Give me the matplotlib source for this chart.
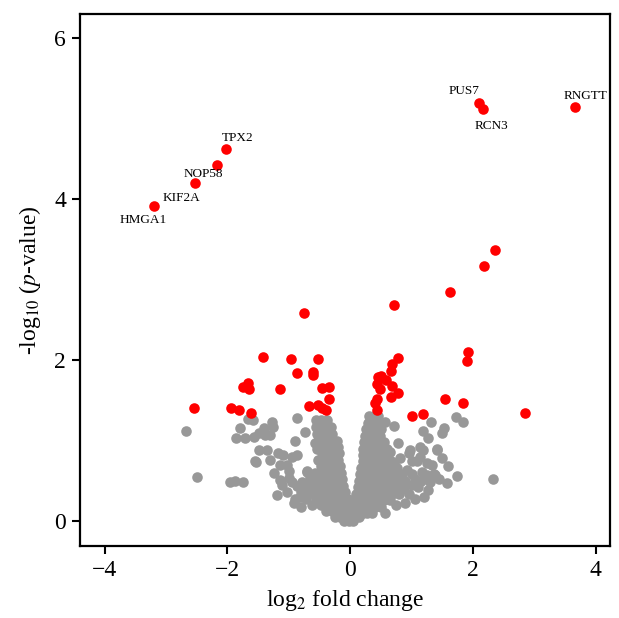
import matplotlib
matplotlib.use("Agg")
import matplotlib.pyplot as plt

plt.rcParams["font.family"] = ["Liberation Serif", "DejaVu Serif"]
plt.rcParams["mathtext.fontset"] = "stix"

# Significant genes (red)
sig_x = [-3.19, -2.52, -2.17, -2.02, 2.10, 2.17, 3.66,
         2.35, 2.18, 1.63, 0.72, -0.75, 1.92, 1.90, 0.78, -1.42, -0.96, -0.52,
         -0.87, -0.61, -0.60, -1.67, -1.74, -1.65, -1.14, -0.46, -0.35, -0.34,
         -2.54, -1.94, -1.81, -1.61, -0.67, -0.52, -0.46, -0.40,
         0.68, 0.66, 0.46, 0.50, 0.59, 0.43, 0.49, 0.68, 0.44, 0.41, 0.43,
         0.66, 0.78, 1.54, 1.84, 1.00, 1.18, 2.85]
sig_y = [3.91, 4.20, 4.42, 4.62, 5.20, 5.12, 5.14,
         3.37, 3.17, 2.84, 2.68, 2.59, 2.10, 1.99, 2.03, 2.04, 2.01, 2.01,
         1.84, 1.85, 1.81, 1.72, 1.66, 1.64, 1.64, 1.65, 1.66, 1.52,
         1.41, 1.40, 1.38, 1.34, 1.43, 1.44, 1.40, 1.38,
         1.95, 1.87, 1.79, 1.80, 1.75, 1.70, 1.64, 1.68, 1.52, 1.47, 1.38,
         1.54, 1.59, 1.52, 1.47, 1.31, 1.33, 1.34]

# Gene labels and where their text sits
label_names = ["HMGA1", "KIF2A", "NOP58", "TPX2", "PUS7", "RCN3", "RNGTT"]
label_x = [-3.37, -2.74, -2.39, -1.84, 1.86, 2.30, 3.83]
label_y = [3.74, 4.02, 4.31, 4.76, 5.34, 4.91, 5.28]

# Non-significant genes (grey): scattered outliers
ns_x = [-2.68, -2.50, -1.95, -1.87, -1.75, -1.79, -1.86, -1.71, -1.67, -1.58,
        -1.54, -1.57, -1.49, -1.38, -1.28, -1.25, -1.30, -1.40, -0.87, -0.73,
        -0.90, -1.49, -1.36, -1.30, -1.17, -1.09, -1.55, -1.14, -1.03, -0.95,
        -0.87, -1.14, -1.11, -1.00, -0.95, -1.19, -1.03, -0.87, -0.79, -0.71,
        -0.65, -0.81, -0.68, -0.60, -0.54, -0.49, -0.52, -0.38, -0.57, -0.54,
        -0.49, -0.44, -1.24, -0.99, -0.92, -0.80, -0.70,
        0.71, 1.18, 1.26, 1.52, 1.49, 1.73, 1.84, 1.32, 0.78, 1.42, 2.33,
        1.74, 1.57, 1.27, 1.37, 0.57, 0.57, 0.65, 0.71, 0.81, 0.95, 0.98,
        1.14, 1.19, 1.41, 1.00, 1.09, 1.14, 1.25, 1.33, 0.92, 1.00, 1.17,
        1.25, 1.38, 1.00, 1.10, 0.85, 0.95, 1.15, 1.30, 1.45, 1.05, 0.75,
        1.20, 0.90, 1.60, 1.50, 1.05, 0.85]
ns_y = [1.12, 0.55, 0.49, 0.50, 0.48, 1.16, 1.03, 1.03, 1.27, 1.25,
        0.73, 1.05, 1.09, 1.07, 1.23, 1.17, 1.07, 1.16, 1.28, 1.11,
        0.99, 0.88, 0.88, 0.76, 0.84, 0.82, 0.74, 0.70, 0.70, 0.80,
        0.82, 0.51, 0.45, 0.53, 0.49, 0.32, 0.36, 0.43, 0.49, 0.61,
        0.55, 0.30, 0.34, 0.43, 0.51, 0.45, 0.32, 0.39, 0.97, 0.90,
        1.22, 1.13, 0.60, 0.62, 0.22, 0.18, 0.62,
        1.18, 1.12, 1.03, 1.15, 1.09, 1.29, 1.23, 1.23, 0.97, 0.89, 0.52,
        0.56, 0.47, 0.39, 0.58, 0.10, 1.23, 0.86, 0.72, 0.78, 0.84, 0.88,
        0.92, 0.88, 0.88, 0.74, 0.74, 0.80, 0.72, 0.70, 0.63, 0.59, 0.61,
        0.57, 0.57, 0.45, 0.42, 0.40, 0.33, 0.50, 0.48, 0.52, 0.28, 0.20,
        0.30, 0.22, 0.68, 0.78, 0.52, 0.55]

# Non-significant genes (grey): dense core of the volcano, row by row
left_rows = {
    1.25: [-0.55, -0.47, -0.38],
    1.17: [-0.56, -0.48, -0.40, -0.32],
    1.08: [-0.54, -0.46, -0.38, -0.30],
    1.00: [-0.52, -0.44, -0.36, -0.28, -0.22],
    0.92: [-0.50, -0.42, -0.34, -0.26, -0.20],
    0.84: [-0.46, -0.38, -0.30, -0.23, -0.19],
    0.76: [-0.52, -0.44, -0.36, -0.28, -0.20],
    0.68: [-0.48, -0.40, -0.32, -0.24, -0.17],
    0.60: [-0.58, -0.50, -0.42, -0.34, -0.26, -0.18, -0.15],
    0.52: [-0.62, -0.45, -0.37, -0.29, -0.21, -0.14],
    0.44: [-0.70, -0.55, -0.42, -0.33, -0.25, -0.17, -0.12],
    0.36: [-0.80, -0.62, -0.46, -0.37, -0.29, -0.21, -0.13, -0.09],
    0.28: [-0.90, -0.72, -0.55, -0.42, -0.33, -0.25, -0.17, -0.09, -0.04],
    0.20: [-0.62, -0.48, -0.37, -0.28, -0.20, -0.12, -0.05, 0.02],
    0.12: [-0.40, -0.30, -0.22, -0.14, -0.07, 0.00, 0.06],
    0.05: [-0.25, -0.16, -0.08, 0.00, 0.08, 0.15],
    0.00: [-0.10, -0.02, 0.05],
}
right_rows = {
    1.30: [0.30, 0.38, 0.45],
    1.22: [0.29, 0.36, 0.44],
    1.14: [0.26, 0.34, 0.42, 0.50],
    1.06: [0.24, 0.32, 0.40, 0.48],
    0.98: [0.23, 0.31, 0.39, 0.47, 0.55],
    0.90: [0.21, 0.29, 0.37, 0.45, 0.53, 0.60],
    0.82: [0.21, 0.28, 0.36, 0.44, 0.52, 0.60],
    0.74: [0.20, 0.26, 0.34, 0.42, 0.50, 0.58, 0.66],
    0.66: [0.18, 0.24, 0.32, 0.40, 0.48, 0.56, 0.66, 0.76],
    0.58: [0.16, 0.23, 0.31, 0.39, 0.47, 0.55, 0.63, 0.72, 0.82],
    0.50: [0.14, 0.21, 0.29, 0.37, 0.45, 0.53, 0.61, 0.70, 0.80, 0.90],
    0.42: [0.12, 0.20, 0.28, 0.36, 0.44, 0.52, 0.60, 0.68, 0.78, 0.88],
    0.34: [0.09, 0.17, 0.25, 0.33, 0.41, 0.49, 0.58, 0.68, 0.80],
    0.26: [0.06, 0.14, 0.22, 0.30, 0.38, 0.46, 0.55, 0.65],
    0.18: [0.08, 0.16, 0.24, 0.32, 0.40, 0.50],
    0.10: [0.12, 0.20, 0.28, 0.36],
}

for rows in (left_rows, right_rows):
    for yv, xs in rows.items():
        ns_x.extend(xs)
        ns_y.extend([yv] * len(xs))

fig = plt.figure(figsize=(6.19, 6.18), dpi=100)
ax = fig.add_axes([80 / 619, 1 - 546 / 618, 530 / 619, 532 / 618])

ax.scatter(ns_x, ns_y, s=58, c="#989898", linewidths=0, zorder=2)
ax.scatter(sig_x, sig_y, s=58, c="#ff0000", linewidths=0, zorder=3)

for name, lx, ly in zip(label_names, label_x, label_y):
    ax.text(lx, ly, name, fontsize=9.5, ha="center", va="center", zorder=4)

ax.set_xlim(-4.40, 4.23)
ax.set_ylim(-0.31, 6.30)
ax.set_xticks([-4, -2, 0, 2, 4])
ax.set_yticks([0, 2, 4, 6])
ax.tick_params(axis="both", direction="out", length=6, width=1.5,
               labelsize=17, pad=4)
for sp in ax.spines.values():
    sp.set_linewidth(1.6)

ax.set_xlabel(r"log$_2$ fold change", fontsize=17, labelpad=5)
ax.set_ylabel(r"-log$_{10}$ ($p$-value)", fontsize=17, labelpad=8)

fig.savefig("out.png", dpi=100)
